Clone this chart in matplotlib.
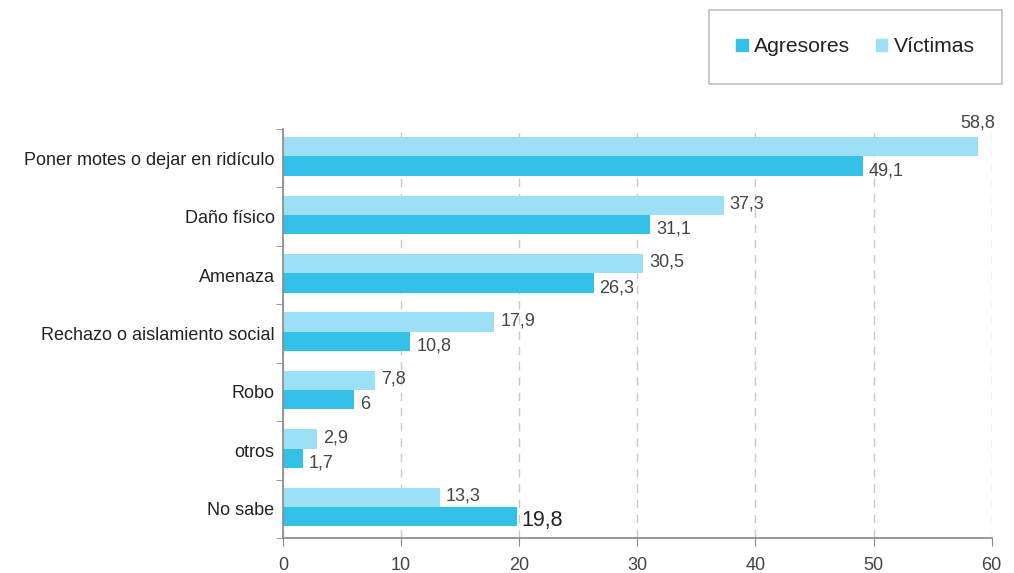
"""Tipos de acoso: agresores vs. victimas (barras horizontales)."""

import matplotlib.pyplot as plt
import numpy as np
from matplotlib.patches import Patch

plt.rcParams["font.family"] = ["Liberation Sans", "DejaVu Sans"]

categorias = [
    "Poner motes o dejar en ridículo",
    "Daño físico",
    "Amenaza",
    "Rechazo o aislamiento social",
    "Robo",
    "otros",
    "No sabe",
]
agresores = [49.1, 31.1, 26.3, 10.8, 6, 1.7, 19.8]
victimas = [58.8, 37.3, 30.5, 17.9, 7.8, 2.9, 13.3]

color_agr = "#33c1e8"
color_vic = "#9be0f5"


def fmt(v):
    return f"{v:g}".replace(".", ",")


fig = plt.figure(figsize=(10.14, 5.73), dpi=100)
ax = fig.add_axes([0.279, 0.061, 0.699, 0.714])

y = np.arange(len(categorias)) - 0.03
h = 0.33
ax.barh(y - h / 2, victimas, height=h, color=color_vic, zorder=2)
ax.barh(y + h / 2, agresores, height=h, color=color_agr, zorder=2)

for i, (a, v) in enumerate(zip(agresores, victimas)):
    yc = y[i]
    if v > 55:
        ax.text(v, yc - h - 0.1, fmt(v), ha="center", va="bottom",
                fontsize=13, color="#444444")
    else:
        ax.text(v + 0.5, yc - h / 2 - 0.02, fmt(v), ha="left", va="center",
                fontsize=13, color="#444444")
    if categorias[i] == "No sabe":
        ax.text(a + 0.4, yc + h / 2 + 0.06, fmt(a), ha="left", va="center",
                fontsize=15.5, color="#222222")
    else:
        ax.text(a + 0.5, yc + h / 2 + 0.08, fmt(a), ha="left", va="center",
                fontsize=13, color="#444444")

ax.set_xlim(0, 60)
ax.set_ylim(len(categorias) - 0.5, -0.5)
ax.set_xticks(np.arange(0, 61, 10))
ax.set_yticks(np.arange(len(categorias)))
ax.set_yticklabels(categorias, fontsize=13, color="#222222")
ax.set_yticks(np.arange(-0.5, len(categorias), 1), minor=True)
ax.tick_params(axis="y", which="major", length=0, pad=6)
ax.tick_params(axis="y", which="minor", length=5, color="#888888", direction="out")
ax.tick_params(axis="x", length=6, color="#888888", labelsize=13,
               labelcolor="#444444", pad=8)

ax.grid(axis="x", color="#c8c8c8", linestyle=(0, (6, 5)), linewidth=1, zorder=0)
for s in ["top", "right"]:
    ax.spines[s].set_visible(False)
for s in ["left", "bottom"]:
    ax.spines[s].set_color("#888888")
    ax.spines[s].set_linewidth(1.2)

handles = [Patch(color=color_agr, label="Agresores"),
           Patch(color=color_vic, label="Víctimas")]
leg = fig.legend(handles=handles, loc="upper left",
                 bbox_to_anchor=(709 / 1014, 1 - 10 / 573), ncol=2,
                 fontsize=15.2, frameon=True, fancybox=False,
                 handlelength=0.55, handleheight=0.55, handletextpad=0.3,
                 columnspacing=1.2, borderpad=1.3, borderaxespad=0)
leg.get_frame().set_edgecolor("#b0b0b0")
leg.get_frame().set_linewidth(1.2)
for t in leg.get_texts():
    t.set_color("#222222")

fig.savefig("out.png", dpi=100)
